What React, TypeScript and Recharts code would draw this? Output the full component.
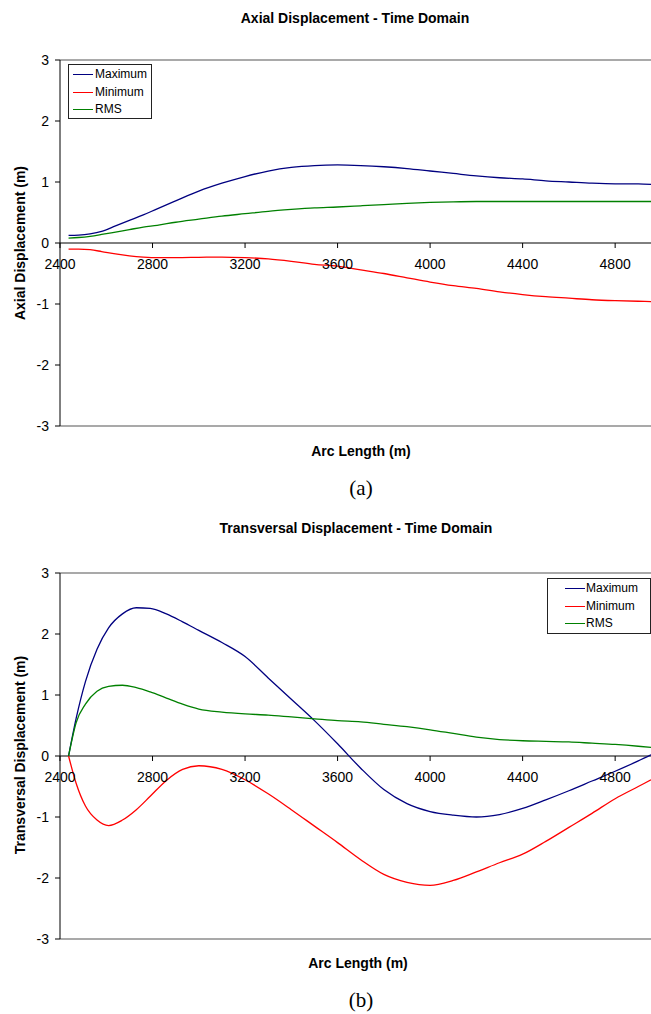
import React from 'react';
import { LineChart, Line, XAxis, YAxis, ReferenceLine, Legend } from 'recharts';

// ---------- Data ----------
const arcLengthA = [2437, 2480, 2530, 2580, 2640, 2700, 2760, 2820, 2900, 3000, 3100, 3200, 3300, 3400, 3500, 3600, 3700, 3800, 3900, 4000, 4100, 4200, 4300, 4400, 4500, 4600, 4700, 4800, 4900, 4955];
const axialMax = [0.125, 0.13, 0.15, 0.19, 0.28, 0.37, 0.46, 0.56, 0.69, 0.85, 0.98, 1.09, 1.18, 1.24, 1.27, 1.28, 1.27, 1.25, 1.22, 1.18, 1.14, 1.1, 1.07, 1.05, 1.02, 1.0, 0.98, 0.97, 0.97, 0.96];
const axialMin = [-0.1, -0.1, -0.11, -0.14, -0.18, -0.21, -0.23, -0.24, -0.24, -0.235, -0.23, -0.24, -0.26, -0.3, -0.35, -0.38, -0.44, -0.5, -0.57, -0.64, -0.7, -0.745, -0.8, -0.845, -0.88, -0.905, -0.93, -0.945, -0.955, -0.96];
const axialRms = [0.08, 0.09, 0.11, 0.14, 0.18, 0.22, 0.26, 0.29, 0.34, 0.39, 0.44, 0.48, 0.52, 0.55, 0.575, 0.59, 0.61, 0.63, 0.65, 0.665, 0.675, 0.68, 0.68, 0.68, 0.68, 0.68, 0.68, 0.68, 0.68, 0.68];

const arcLengthB = [2437, 2470, 2510, 2560, 2610, 2670, 2730, 2790, 2860, 2930, 3000, 3100, 3200, 3300, 3400, 3500, 3600, 3700, 3800, 3900, 4000, 4100, 4200, 4300, 4400, 4500, 4600, 4700, 4800, 4900, 4955];
const transMax = [0, 0.62, 1.22, 1.75, 2.1, 2.33, 2.43, 2.42, 2.33, 2.2, 2.06, 1.86, 1.63, 1.28, 0.93, 0.58, 0.2, -0.2, -0.55, -0.78, -0.91, -0.97, -1.0, -0.96, -0.86, -0.72, -0.57, -0.41, -0.25, -0.08, 0.02];
const transMin = [0, -0.45, -0.82, -1.05, -1.14, -1.05, -0.88, -0.66, -0.4, -0.22, -0.16, -0.22, -0.39, -0.62, -0.88, -1.15, -1.42, -1.7, -1.94, -2.07, -2.12, -2.04, -1.9, -1.75, -1.61, -1.4, -1.17, -0.94, -0.7, -0.5, -0.39];
const transRms = [0, 0.55, 0.85, 1.06, 1.14, 1.16, 1.12, 1.05, 0.95, 0.85, 0.77, 0.72, 0.69, 0.67, 0.64, 0.61, 0.58, 0.56, 0.52, 0.48, 0.43, 0.37, 0.31, 0.27, 0.25, 0.24, 0.23, 0.21, 0.19, 0.16, 0.14];

const xTicks = [2400, 2800, 3200, 3600, 4000, 4400, 4800];
const yTicks = [-3, -2, -1, 0, 1, 2, 3];
const seriesKeys = ['max', 'min', 'rms'];
const seriesNames = ['Maximum', 'Minimum', 'RMS'];
const seriesColors = ['#000080', '#ff0000', '#008000'];

const buildRows = (xs: number[], a: number[], b: number[], c: number[]) =>
  xs.map((x, i) => ({ x, max: a[i], min: b[i], rms: c[i] }));

const dataA = buildRows(arcLengthA, axialMax, axialMin, axialRms);
const dataB = buildRows(arcLengthB, transMax, transMin, transRms);

// ---------- Layout ----------
const W = 651;
const PLOT_TOP = 60;
const PLOT_H = 366;
const X_AXIS_H = 20;
const Y_AXIS_W = 60;
const X_DOMAIN: [number, number] = [2400, 4955];
const Y_DOMAIN: [number, number] = [-3, 3];
const FONT = '"Liberation Sans", Arial, sans-serif';

const zeroY = PLOT_TOP + (PLOT_H * (Y_DOMAIN[1] - 0)) / (Y_DOMAIN[1] - Y_DOMAIN[0]);

const XTick = (props: any) => {
  const { x, payload } = props;
  return (
    <g>
      <line x1={x} x2={x} y1={zeroY} y2={zeroY + 5} stroke="#000" strokeWidth={1} />
      <text x={x} y={zeroY + 26} textAnchor="middle" fontSize={14} fill="#000" fontFamily={FONT}>
        {payload.value}
      </text>
    </g>
  );
};

const makeLegend = (lineX: number, textX: number) => (props: any) => {
  const payload = props.payload || [];
  return (
    <div
      style={{
        border: '1px solid #222',
        background: '#fff',
        boxSizing: 'border-box',
        width: '100%',
        height: '100%',
        paddingTop: 1,
        fontFamily: FONT,
        fontSize: 12,
        color: '#000',
      }}
    >
      {payload.map((p: any, i: number) => (
        <div key={i} style={{ position: 'relative', height: 17.5, lineHeight: '17.5px' }}>
          <div
            style={{
              position: 'absolute',
              left: lineX,
              top: 8,
              width: 20,
              height: 0,
              borderTop: `1.3px solid ${p.color}`,
            }}
          />
          <span style={{ position: 'absolute', left: textX, top: 0 }}>{p.value}</span>
        </div>
      ))}
    </div>
  );
};

type PanelProps = {
  data: any[];
  legendStyle: React.CSSProperties;
  legendLineX: number;
  legendTextX: number;
};

const Panel = ({ data, legendStyle, legendLineX, legendTextX }: PanelProps) => (
  <LineChart
    width={W}
    height={PLOT_TOP + PLOT_H + X_AXIS_H}
    data={data}
    margin={{ top: PLOT_TOP, right: 0, bottom: 0, left: 0 }}
  >
    <ReferenceLine y={3} stroke="#8c8c8c" strokeWidth={1.5} ifOverflow="visible" />
    <ReferenceLine y={-3} stroke="#8c8c8c" strokeWidth={1.5} ifOverflow="visible" />
    <ReferenceLine y={0} stroke="#000" strokeWidth={1} />
    <XAxis
      dataKey="x"
      type="number"
      domain={X_DOMAIN}
      ticks={xTicks}
      interval={0}
      allowDataOverflow
      axisLine={false}
      tickLine={false}
      height={X_AXIS_H}
      tick={<XTick />}
    />
    <YAxis
      type="number"
      domain={Y_DOMAIN}
      ticks={yTicks}
      interval={0}
      width={Y_AXIS_W}
      axisLine={{ stroke: '#000', strokeWidth: 1 }}
      tickLine={{ stroke: '#000' }}
      tickSize={5}
      tickMargin={6}
      tick={{ fontSize: 14, fill: '#000', fontFamily: FONT }}
    />
    <Legend
      layout="vertical"
      align="center"
      verticalAlign="middle"
      wrapperStyle={legendStyle}
      content={makeLegend(legendLineX, legendTextX)}
    />
    {seriesKeys.map((k, i) => (
      <Line
        key={k}
        dataKey={k}
        name={seriesNames[i]}
        stroke={seriesColors[i]}
        strokeWidth={1.3}
        type="monotone"
        dot={false}
        activeDot={false}
        isAnimationActive={false}
      />
    ))}
  </LineChart>
);

const centerText = (text: string, cx: number, cy: number, style: React.CSSProperties) => (
  <div
    style={{
      position: 'absolute',
      left: cx - 200,
      top: cy - 12,
      width: 400,
      height: 24,
      lineHeight: '24px',
      textAlign: 'center',
      whiteSpace: 'nowrap',
      ...style,
    }}
  >
    {text}
  </div>
);

const vertText = (text: string, cx: number, cy: number, style: React.CSSProperties) => (
  <div
    style={{
      position: 'absolute',
      left: cx - 200,
      top: cy - 12,
      width: 400,
      height: 24,
      lineHeight: '24px',
      textAlign: 'center',
      whiteSpace: 'nowrap',
      transform: 'rotate(-90deg)',
      transformOrigin: '50% 50%',
      ...style,
    }}
  >
    {text}
  </div>
);

const bold: React.CSSProperties = { fontFamily: FONT, fontWeight: 'bold', fontSize: 14, color: '#000' };
const serif: React.CSSProperties = { fontFamily: '"Liberation Serif", "Times New Roman", serif', fontSize: 21, color: '#000' };

export default function App() {
  return (
    <div style={{ position: 'absolute', left: 0, top: 0, width: W, height: 1014, background: '#fff', overflow: 'hidden' }}>
      <div style={{ position: 'absolute', left: 0, top: 0 }}>
        <Panel
          data={dataA}
          legendStyle={{ position: 'absolute', left: 68, top: 64, width: 84, height: 55 }}
          legendLineX={4}
          legendTextX={26}
        />
      </div>
      {centerText('Axial Displacement - Time Domain', 355, 18, bold)}
      {vertText('Axial Displacement (m)', 20, 243, bold)}
      {centerText('Arc Length (m)', 361, 451, bold)}
      {centerText('(a)', 361, 488, serif)}

      <div style={{ position: 'absolute', left: 0, top: 513 }}>
        <Panel
          data={dataB}
          legendStyle={{ position: 'absolute', left: 547, top: 65, width: 104, height: 56 }}
          legendLineX={17}
          legendTextX={38}
        />
      </div>
      {centerText('Transversal Displacement - Time Domain', 356, 528, bold)}
      {vertText('Transversal Displacement (m)', 20, 755, bold)}
      {centerText('Arc Length (m)', 358, 963, bold)}
      {centerText('(b)', 361, 1000, serif)}
    </div>
  );
}
